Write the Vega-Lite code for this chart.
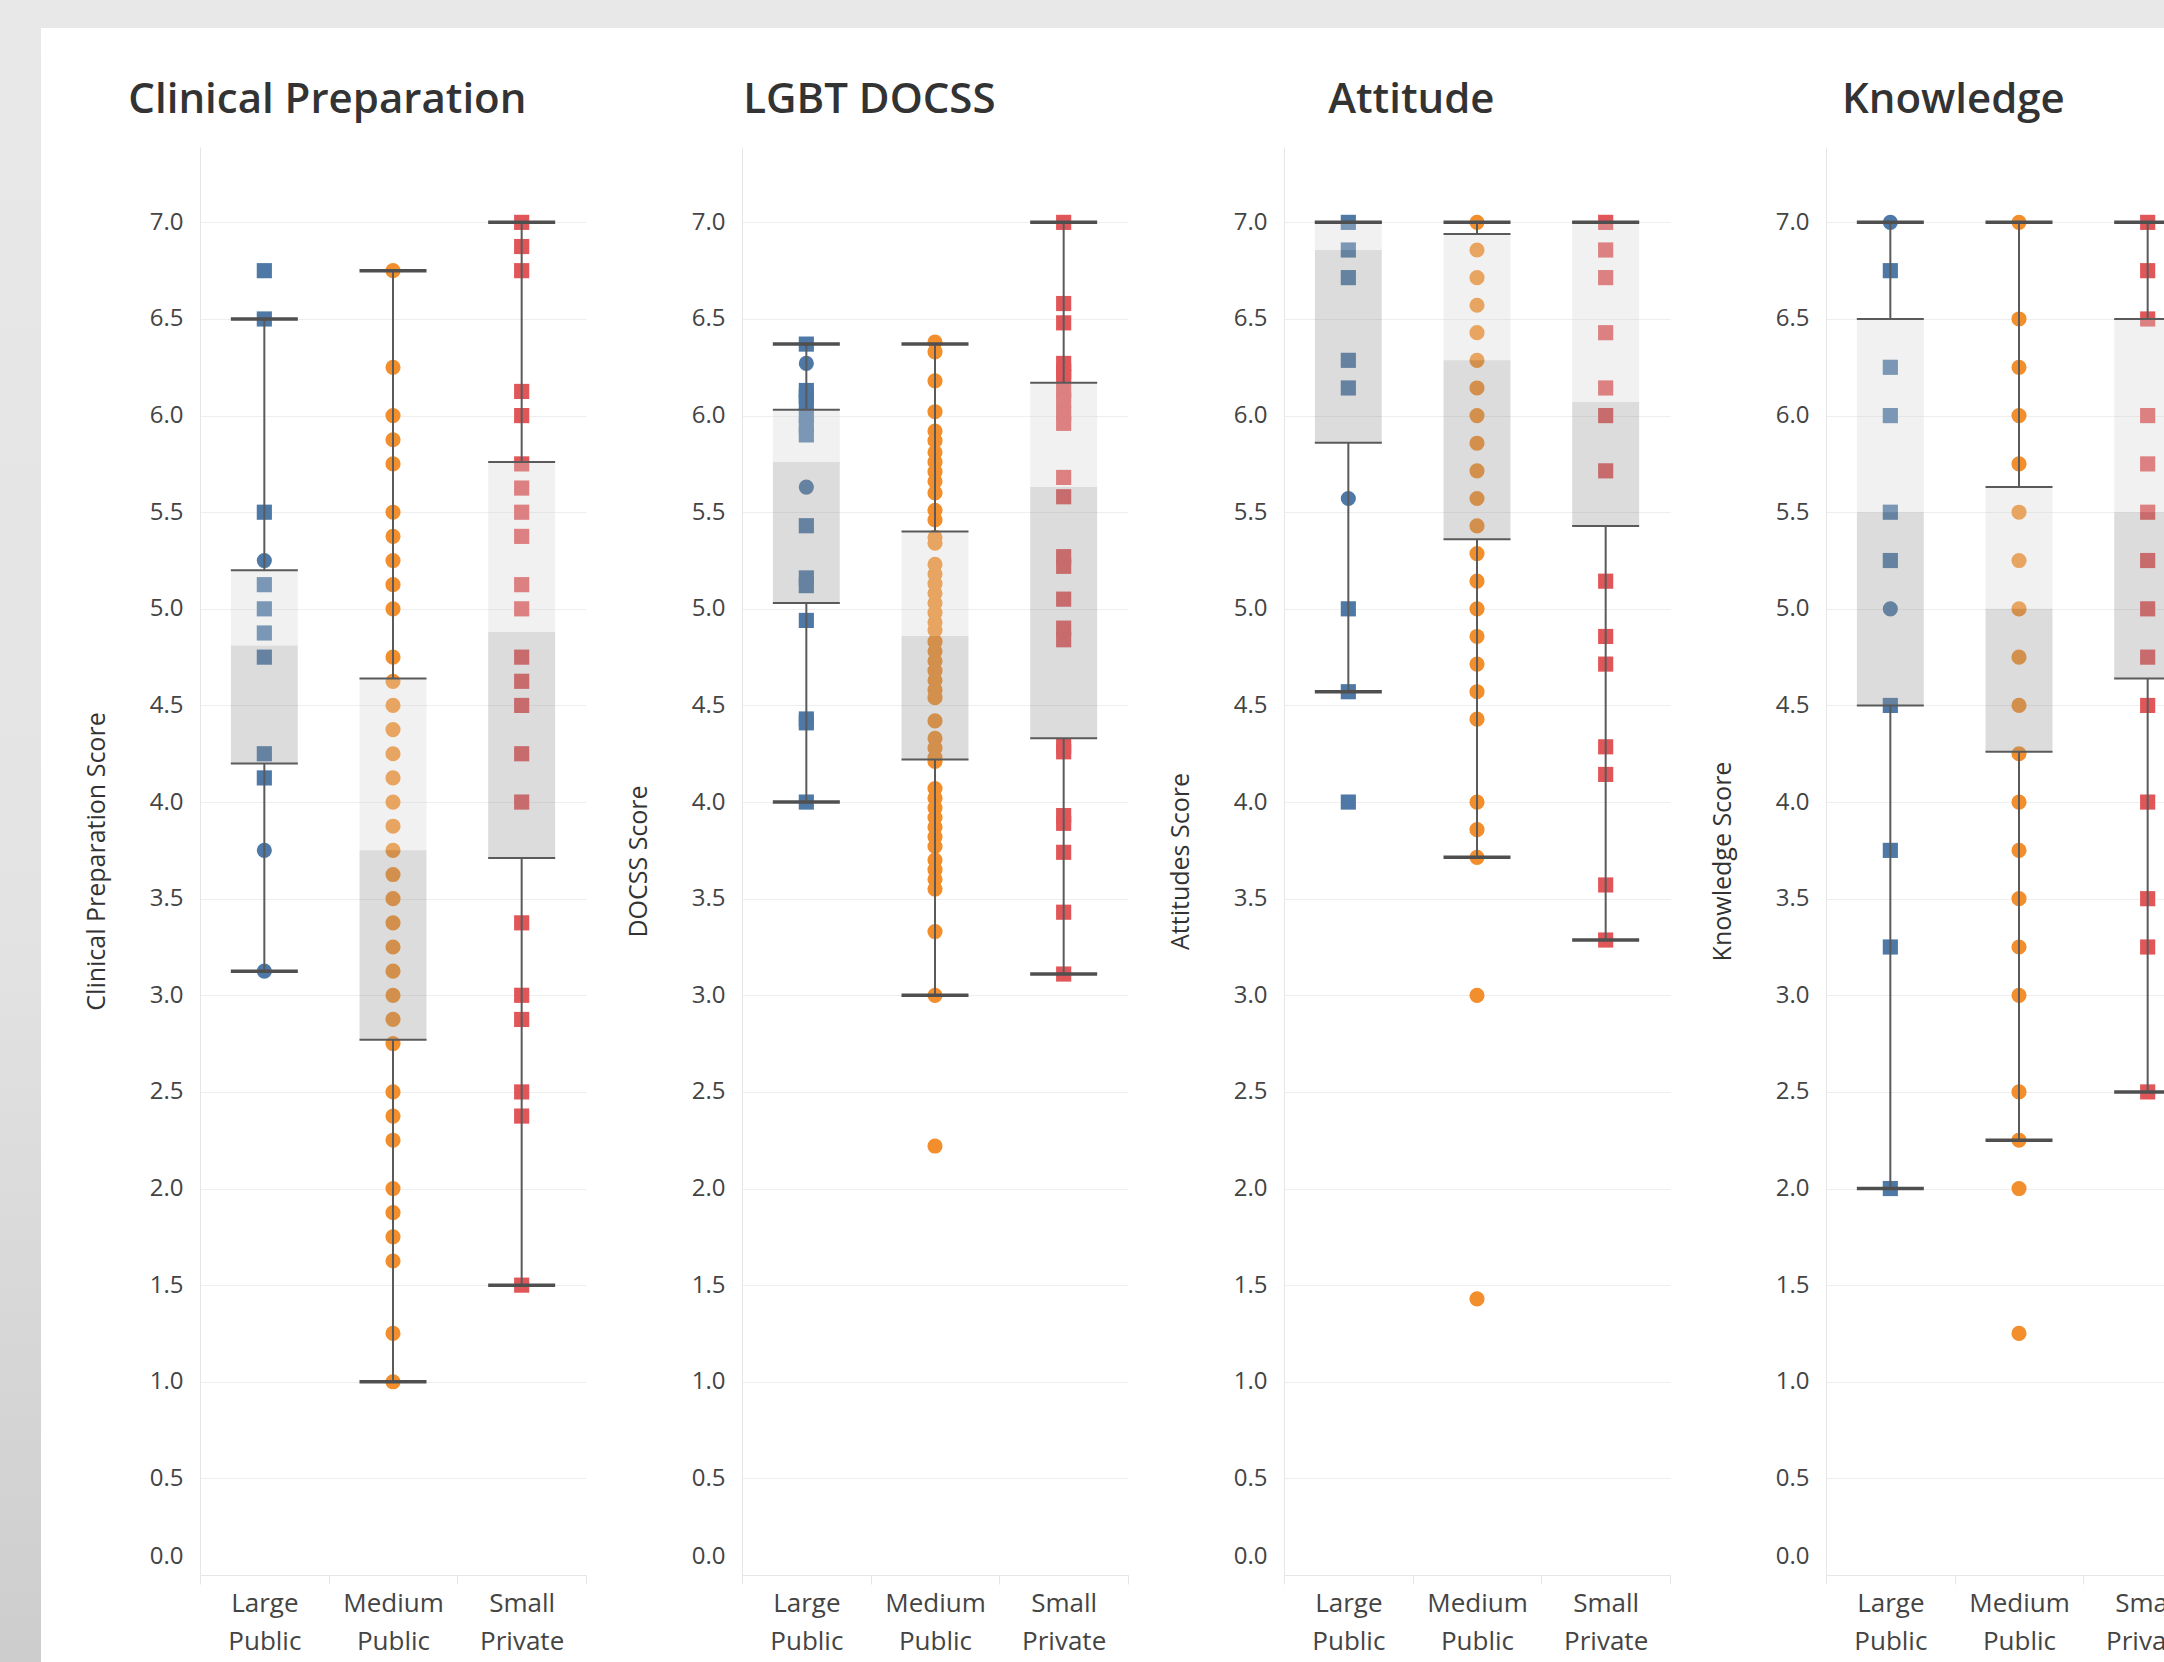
{
  "$schema": "https://vega.github.io/schema/vega-lite/v6.json",
  "padding": 0,
  "background": "white",
  "config": {
    "font": "Open Sans",
    "view": {"stroke": null},
    "concat": {"spacing": 0},
    "title": {"fontSize": 42, "fontWeight": 600, "color": "#333333", "anchor": "middle", "frame": "bounds", "offset": 25, "dx": -8, "baseline": "alphabetic"},
    "axisY": {"labelFontSize": 24, "labelColor": "#444444", "labelPadding": 17, "ticks": false, "tickSize": 0, "domainColor": "#e6e6e6", "gridColor": "#eeeeee", "titleFontSize": 25, "titleFontWeight": "normal", "titleColor": "#333333", "titlePadding": 40, "labelFlush": true, "labelFlushOffset": -7},
    "axisX": {"labelFontSize": 26, "labelColor": "#444444", "labelAngle": 0, "labelLineHeight": 38, "labelPadding": 6, "ticks": true, "tickBand": "extent", "tickSize": 9, "tickColor": "#e6e6e6", "domainColor": "#e6e6e6", "grid": false, "labelBaseline": "top"}
  },
  "datasets": {
    "boxes": [
      {"measure": "Clinical Preparation", "school": "Large Public", "lower_whisker": 3.125, "q1": 4.2, "median": 4.81, "q3": 5.2, "upper_whisker": 6.5},
      {"measure": "Clinical Preparation", "school": "Medium Public", "lower_whisker": 1.0, "q1": 2.77, "median": 3.75, "q3": 4.64, "upper_whisker": 6.75},
      {"measure": "Clinical Preparation", "school": "Small Private", "lower_whisker": 1.5, "q1": 3.71, "median": 4.88, "q3": 5.76, "upper_whisker": 7.0},
      {"measure": "LGBT DOCSS", "school": "Large Public", "lower_whisker": 4.0, "q1": 5.03, "median": 5.76, "q3": 6.03, "upper_whisker": 6.37},
      {"measure": "LGBT DOCSS", "school": "Medium Public", "lower_whisker": 3.0, "q1": 4.22, "median": 4.86, "q3": 5.4, "upper_whisker": 6.37},
      {"measure": "LGBT DOCSS", "school": "Small Private", "lower_whisker": 3.11, "q1": 4.33, "median": 5.63, "q3": 6.17, "upper_whisker": 7.0},
      {"measure": "Attitude", "school": "Large Public", "lower_whisker": 4.571, "q1": 5.86, "median": 6.857, "q3": 7.0, "upper_whisker": 7.0},
      {"measure": "Attitude", "school": "Medium Public", "lower_whisker": 3.714, "q1": 5.36, "median": 6.286, "q3": 6.94, "upper_whisker": 7.0},
      {"measure": "Attitude", "school": "Small Private", "lower_whisker": 3.286, "q1": 5.429, "median": 6.07, "q3": 7.0, "upper_whisker": 7.0},
      {"measure": "Knowledge", "school": "Large Public", "lower_whisker": 2.0, "q1": 4.5, "median": 5.5, "q3": 6.5, "upper_whisker": 7.0},
      {"measure": "Knowledge", "school": "Medium Public", "lower_whisker": 2.25, "q1": 4.26, "median": 5.0, "q3": 5.63, "upper_whisker": 7.0},
      {"measure": "Knowledge", "school": "Small Private", "lower_whisker": 2.5, "q1": 4.64, "median": 5.5, "q3": 6.5, "upper_whisker": 7.0}
    ],
    "points": [
      {"measure": "Clinical Preparation", "school": "Large Public", "group": "A", "score": 6.75},
      {"measure": "Clinical Preparation", "school": "Large Public", "group": "A", "score": 6.5},
      {"measure": "Clinical Preparation", "school": "Large Public", "group": "A", "score": 5.5},
      {"measure": "Clinical Preparation", "school": "Large Public", "group": "A", "score": 5.125},
      {"measure": "Clinical Preparation", "school": "Large Public", "group": "A", "score": 5.0},
      {"measure": "Clinical Preparation", "school": "Large Public", "group": "A", "score": 4.875},
      {"measure": "Clinical Preparation", "school": "Large Public", "group": "A", "score": 4.75},
      {"measure": "Clinical Preparation", "school": "Large Public", "group": "A", "score": 4.25},
      {"measure": "Clinical Preparation", "school": "Large Public", "group": "A", "score": 4.125},
      {"measure": "Clinical Preparation", "school": "Large Public", "group": "B", "score": 5.25},
      {"measure": "Clinical Preparation", "school": "Large Public", "group": "B", "score": 3.75},
      {"measure": "Clinical Preparation", "school": "Large Public", "group": "B", "score": 3.125},
      {"measure": "Clinical Preparation", "school": "Medium Public", "group": "B", "score": 6.75},
      {"measure": "Clinical Preparation", "school": "Medium Public", "group": "B", "score": 6.25},
      {"measure": "Clinical Preparation", "school": "Medium Public", "group": "B", "score": 6.0},
      {"measure": "Clinical Preparation", "school": "Medium Public", "group": "B", "score": 5.875},
      {"measure": "Clinical Preparation", "school": "Medium Public", "group": "B", "score": 5.75},
      {"measure": "Clinical Preparation", "school": "Medium Public", "group": "B", "score": 5.5},
      {"measure": "Clinical Preparation", "school": "Medium Public", "group": "B", "score": 5.375},
      {"measure": "Clinical Preparation", "school": "Medium Public", "group": "B", "score": 5.25},
      {"measure": "Clinical Preparation", "school": "Medium Public", "group": "B", "score": 5.125},
      {"measure": "Clinical Preparation", "school": "Medium Public", "group": "B", "score": 5.0},
      {"measure": "Clinical Preparation", "school": "Medium Public", "group": "B", "score": 4.75},
      {"measure": "Clinical Preparation", "school": "Medium Public", "group": "B", "score": 4.625},
      {"measure": "Clinical Preparation", "school": "Medium Public", "group": "B", "score": 4.5},
      {"measure": "Clinical Preparation", "school": "Medium Public", "group": "B", "score": 4.375},
      {"measure": "Clinical Preparation", "school": "Medium Public", "group": "B", "score": 4.25},
      {"measure": "Clinical Preparation", "school": "Medium Public", "group": "B", "score": 4.125},
      {"measure": "Clinical Preparation", "school": "Medium Public", "group": "B", "score": 4.0},
      {"measure": "Clinical Preparation", "school": "Medium Public", "group": "B", "score": 3.875},
      {"measure": "Clinical Preparation", "school": "Medium Public", "group": "B", "score": 3.75},
      {"measure": "Clinical Preparation", "school": "Medium Public", "group": "B", "score": 3.625},
      {"measure": "Clinical Preparation", "school": "Medium Public", "group": "B", "score": 3.5},
      {"measure": "Clinical Preparation", "school": "Medium Public", "group": "B", "score": 3.375},
      {"measure": "Clinical Preparation", "school": "Medium Public", "group": "B", "score": 3.25},
      {"measure": "Clinical Preparation", "school": "Medium Public", "group": "B", "score": 3.125},
      {"measure": "Clinical Preparation", "school": "Medium Public", "group": "B", "score": 3.0},
      {"measure": "Clinical Preparation", "school": "Medium Public", "group": "B", "score": 2.875},
      {"measure": "Clinical Preparation", "school": "Medium Public", "group": "B", "score": 2.75},
      {"measure": "Clinical Preparation", "school": "Medium Public", "group": "B", "score": 2.5},
      {"measure": "Clinical Preparation", "school": "Medium Public", "group": "B", "score": 2.375},
      {"measure": "Clinical Preparation", "school": "Medium Public", "group": "B", "score": 2.25},
      {"measure": "Clinical Preparation", "school": "Medium Public", "group": "B", "score": 2.0},
      {"measure": "Clinical Preparation", "school": "Medium Public", "group": "B", "score": 1.875},
      {"measure": "Clinical Preparation", "school": "Medium Public", "group": "B", "score": 1.75},
      {"measure": "Clinical Preparation", "school": "Medium Public", "group": "B", "score": 1.625},
      {"measure": "Clinical Preparation", "school": "Medium Public", "group": "B", "score": 1.25},
      {"measure": "Clinical Preparation", "school": "Medium Public", "group": "B", "score": 1.0},
      {"measure": "Clinical Preparation", "school": "Small Private", "group": "A", "score": 7.0},
      {"measure": "Clinical Preparation", "school": "Small Private", "group": "A", "score": 6.875},
      {"measure": "Clinical Preparation", "school": "Small Private", "group": "A", "score": 6.75},
      {"measure": "Clinical Preparation", "school": "Small Private", "group": "A", "score": 6.125},
      {"measure": "Clinical Preparation", "school": "Small Private", "group": "A", "score": 6.0},
      {"measure": "Clinical Preparation", "school": "Small Private", "group": "A", "score": 5.75},
      {"measure": "Clinical Preparation", "school": "Small Private", "group": "A", "score": 5.625},
      {"measure": "Clinical Preparation", "school": "Small Private", "group": "A", "score": 5.5},
      {"measure": "Clinical Preparation", "school": "Small Private", "group": "A", "score": 5.375},
      {"measure": "Clinical Preparation", "school": "Small Private", "group": "A", "score": 5.125},
      {"measure": "Clinical Preparation", "school": "Small Private", "group": "A", "score": 5.0},
      {"measure": "Clinical Preparation", "school": "Small Private", "group": "A", "score": 4.75},
      {"measure": "Clinical Preparation", "school": "Small Private", "group": "A", "score": 4.625},
      {"measure": "Clinical Preparation", "school": "Small Private", "group": "A", "score": 4.5},
      {"measure": "Clinical Preparation", "school": "Small Private", "group": "A", "score": 4.25},
      {"measure": "Clinical Preparation", "school": "Small Private", "group": "A", "score": 4.0},
      {"measure": "Clinical Preparation", "school": "Small Private", "group": "A", "score": 3.375},
      {"measure": "Clinical Preparation", "school": "Small Private", "group": "A", "score": 3.0},
      {"measure": "Clinical Preparation", "school": "Small Private", "group": "A", "score": 2.875},
      {"measure": "Clinical Preparation", "school": "Small Private", "group": "A", "score": 2.5},
      {"measure": "Clinical Preparation", "school": "Small Private", "group": "A", "score": 2.375},
      {"measure": "Clinical Preparation", "school": "Small Private", "group": "A", "score": 1.5},
      {"measure": "LGBT DOCSS", "school": "Large Public", "group": "A", "score": 6.37},
      {"measure": "LGBT DOCSS", "school": "Large Public", "group": "A", "score": 6.13},
      {"measure": "LGBT DOCSS", "school": "Large Public", "group": "A", "score": 6.1},
      {"measure": "LGBT DOCSS", "school": "Large Public", "group": "A", "score": 6.07},
      {"measure": "LGBT DOCSS", "school": "Large Public", "group": "A", "score": 6.0},
      {"measure": "LGBT DOCSS", "school": "Large Public", "group": "A", "score": 5.95},
      {"measure": "LGBT DOCSS", "school": "Large Public", "group": "A", "score": 5.9},
      {"measure": "LGBT DOCSS", "school": "Large Public", "group": "A", "score": 5.43},
      {"measure": "LGBT DOCSS", "school": "Large Public", "group": "A", "score": 5.16},
      {"measure": "LGBT DOCSS", "school": "Large Public", "group": "A", "score": 5.12},
      {"measure": "LGBT DOCSS", "school": "Large Public", "group": "A", "score": 4.94},
      {"measure": "LGBT DOCSS", "school": "Large Public", "group": "A", "score": 4.43},
      {"measure": "LGBT DOCSS", "school": "Large Public", "group": "A", "score": 4.41},
      {"measure": "LGBT DOCSS", "school": "Large Public", "group": "A", "score": 4.0},
      {"measure": "LGBT DOCSS", "school": "Large Public", "group": "B", "score": 6.27},
      {"measure": "LGBT DOCSS", "school": "Large Public", "group": "B", "score": 5.63},
      {"measure": "LGBT DOCSS", "school": "Medium Public", "group": "B", "score": 6.38},
      {"measure": "LGBT DOCSS", "school": "Medium Public", "group": "B", "score": 6.33},
      {"measure": "LGBT DOCSS", "school": "Medium Public", "group": "B", "score": 6.18},
      {"measure": "LGBT DOCSS", "school": "Medium Public", "group": "B", "score": 6.02},
      {"measure": "LGBT DOCSS", "school": "Medium Public", "group": "B", "score": 5.92},
      {"measure": "LGBT DOCSS", "school": "Medium Public", "group": "B", "score": 5.87},
      {"measure": "LGBT DOCSS", "school": "Medium Public", "group": "B", "score": 5.81},
      {"measure": "LGBT DOCSS", "school": "Medium Public", "group": "B", "score": 5.76},
      {"measure": "LGBT DOCSS", "school": "Medium Public", "group": "B", "score": 5.71},
      {"measure": "LGBT DOCSS", "school": "Medium Public", "group": "B", "score": 5.66},
      {"measure": "LGBT DOCSS", "school": "Medium Public", "group": "B", "score": 5.6},
      {"measure": "LGBT DOCSS", "school": "Medium Public", "group": "B", "score": 5.51},
      {"measure": "LGBT DOCSS", "school": "Medium Public", "group": "B", "score": 5.46},
      {"measure": "LGBT DOCSS", "school": "Medium Public", "group": "B", "score": 5.37},
      {"measure": "LGBT DOCSS", "school": "Medium Public", "group": "B", "score": 5.34},
      {"measure": "LGBT DOCSS", "school": "Medium Public", "group": "B", "score": 5.23},
      {"measure": "LGBT DOCSS", "school": "Medium Public", "group": "B", "score": 5.18},
      {"measure": "LGBT DOCSS", "school": "Medium Public", "group": "B", "score": 5.13},
      {"measure": "LGBT DOCSS", "school": "Medium Public", "group": "B", "score": 5.08},
      {"measure": "LGBT DOCSS", "school": "Medium Public", "group": "B", "score": 5.03},
      {"measure": "LGBT DOCSS", "school": "Medium Public", "group": "B", "score": 4.98},
      {"measure": "LGBT DOCSS", "school": "Medium Public", "group": "B", "score": 4.93},
      {"measure": "LGBT DOCSS", "school": "Medium Public", "group": "B", "score": 4.89},
      {"measure": "LGBT DOCSS", "school": "Medium Public", "group": "B", "score": 4.83},
      {"measure": "LGBT DOCSS", "school": "Medium Public", "group": "B", "score": 4.78},
      {"measure": "LGBT DOCSS", "school": "Medium Public", "group": "B", "score": 4.73},
      {"measure": "LGBT DOCSS", "school": "Medium Public", "group": "B", "score": 4.68},
      {"measure": "LGBT DOCSS", "school": "Medium Public", "group": "B", "score": 4.63},
      {"measure": "LGBT DOCSS", "school": "Medium Public", "group": "B", "score": 4.58},
      {"measure": "LGBT DOCSS", "school": "Medium Public", "group": "B", "score": 4.54},
      {"measure": "LGBT DOCSS", "school": "Medium Public", "group": "B", "score": 4.42},
      {"measure": "LGBT DOCSS", "school": "Medium Public", "group": "B", "score": 4.33},
      {"measure": "LGBT DOCSS", "school": "Medium Public", "group": "B", "score": 4.28},
      {"measure": "LGBT DOCSS", "school": "Medium Public", "group": "B", "score": 4.23},
      {"measure": "LGBT DOCSS", "school": "Medium Public", "group": "B", "score": 4.21},
      {"measure": "LGBT DOCSS", "school": "Medium Public", "group": "B", "score": 4.07},
      {"measure": "LGBT DOCSS", "school": "Medium Public", "group": "B", "score": 4.02},
      {"measure": "LGBT DOCSS", "school": "Medium Public", "group": "B", "score": 3.97},
      {"measure": "LGBT DOCSS", "school": "Medium Public", "group": "B", "score": 3.92},
      {"measure": "LGBT DOCSS", "school": "Medium Public", "group": "B", "score": 3.87},
      {"measure": "LGBT DOCSS", "school": "Medium Public", "group": "B", "score": 3.82},
      {"measure": "LGBT DOCSS", "school": "Medium Public", "group": "B", "score": 3.77},
      {"measure": "LGBT DOCSS", "school": "Medium Public", "group": "B", "score": 3.7},
      {"measure": "LGBT DOCSS", "school": "Medium Public", "group": "B", "score": 3.65},
      {"measure": "LGBT DOCSS", "school": "Medium Public", "group": "B", "score": 3.6},
      {"measure": "LGBT DOCSS", "school": "Medium Public", "group": "B", "score": 3.55},
      {"measure": "LGBT DOCSS", "school": "Medium Public", "group": "B", "score": 3.33},
      {"measure": "LGBT DOCSS", "school": "Medium Public", "group": "B", "score": 3.0},
      {"measure": "LGBT DOCSS", "school": "Medium Public", "group": "B", "score": 2.22},
      {"measure": "LGBT DOCSS", "school": "Small Private", "group": "A", "score": 7.0},
      {"measure": "LGBT DOCSS", "school": "Small Private", "group": "A", "score": 6.58},
      {"measure": "LGBT DOCSS", "school": "Small Private", "group": "A", "score": 6.48},
      {"measure": "LGBT DOCSS", "school": "Small Private", "group": "A", "score": 6.27},
      {"measure": "LGBT DOCSS", "school": "Small Private", "group": "A", "score": 6.23},
      {"measure": "LGBT DOCSS", "school": "Small Private", "group": "A", "score": 6.2},
      {"measure": "LGBT DOCSS", "school": "Small Private", "group": "A", "score": 6.13},
      {"measure": "LGBT DOCSS", "school": "Small Private", "group": "A", "score": 6.08},
      {"measure": "LGBT DOCSS", "school": "Small Private", "group": "A", "score": 6.01},
      {"measure": "LGBT DOCSS", "school": "Small Private", "group": "A", "score": 5.96},
      {"measure": "LGBT DOCSS", "school": "Small Private", "group": "A", "score": 5.68},
      {"measure": "LGBT DOCSS", "school": "Small Private", "group": "A", "score": 5.58},
      {"measure": "LGBT DOCSS", "school": "Small Private", "group": "A", "score": 5.27},
      {"measure": "LGBT DOCSS", "school": "Small Private", "group": "A", "score": 5.22},
      {"measure": "LGBT DOCSS", "school": "Small Private", "group": "A", "score": 5.05},
      {"measure": "LGBT DOCSS", "school": "Small Private", "group": "A", "score": 4.9},
      {"measure": "LGBT DOCSS", "school": "Small Private", "group": "A", "score": 4.84},
      {"measure": "LGBT DOCSS", "school": "Small Private", "group": "A", "score": 4.29},
      {"measure": "LGBT DOCSS", "school": "Small Private", "group": "A", "score": 4.26},
      {"measure": "LGBT DOCSS", "school": "Small Private", "group": "A", "score": 3.93},
      {"measure": "LGBT DOCSS", "school": "Small Private", "group": "A", "score": 3.89},
      {"measure": "LGBT DOCSS", "school": "Small Private", "group": "A", "score": 3.74},
      {"measure": "LGBT DOCSS", "school": "Small Private", "group": "A", "score": 3.43},
      {"measure": "LGBT DOCSS", "school": "Small Private", "group": "A", "score": 3.11},
      {"measure": "Attitude", "school": "Large Public", "group": "A", "score": 7.0},
      {"measure": "Attitude", "school": "Large Public", "group": "A", "score": 6.857},
      {"measure": "Attitude", "school": "Large Public", "group": "A", "score": 6.714},
      {"measure": "Attitude", "school": "Large Public", "group": "A", "score": 6.286},
      {"measure": "Attitude", "school": "Large Public", "group": "A", "score": 6.143},
      {"measure": "Attitude", "school": "Large Public", "group": "A", "score": 5.0},
      {"measure": "Attitude", "school": "Large Public", "group": "A", "score": 4.571},
      {"measure": "Attitude", "school": "Large Public", "group": "A", "score": 4.0},
      {"measure": "Attitude", "school": "Large Public", "group": "B", "score": 5.571},
      {"measure": "Attitude", "school": "Medium Public", "group": "B", "score": 7.0},
      {"measure": "Attitude", "school": "Medium Public", "group": "B", "score": 6.857},
      {"measure": "Attitude", "school": "Medium Public", "group": "B", "score": 6.714},
      {"measure": "Attitude", "school": "Medium Public", "group": "B", "score": 6.571},
      {"measure": "Attitude", "school": "Medium Public", "group": "B", "score": 6.429},
      {"measure": "Attitude", "school": "Medium Public", "group": "B", "score": 6.286},
      {"measure": "Attitude", "school": "Medium Public", "group": "B", "score": 6.143},
      {"measure": "Attitude", "school": "Medium Public", "group": "B", "score": 6.0},
      {"measure": "Attitude", "school": "Medium Public", "group": "B", "score": 5.857},
      {"measure": "Attitude", "school": "Medium Public", "group": "B", "score": 5.714},
      {"measure": "Attitude", "school": "Medium Public", "group": "B", "score": 5.571},
      {"measure": "Attitude", "school": "Medium Public", "group": "B", "score": 5.429},
      {"measure": "Attitude", "school": "Medium Public", "group": "B", "score": 5.286},
      {"measure": "Attitude", "school": "Medium Public", "group": "B", "score": 5.143},
      {"measure": "Attitude", "school": "Medium Public", "group": "B", "score": 5.0},
      {"measure": "Attitude", "school": "Medium Public", "group": "B", "score": 4.857},
      {"measure": "Attitude", "school": "Medium Public", "group": "B", "score": 4.714},
      {"measure": "Attitude", "school": "Medium Public", "group": "B", "score": 4.571},
      {"measure": "Attitude", "school": "Medium Public", "group": "B", "score": 4.429},
      {"measure": "Attitude", "school": "Medium Public", "group": "B", "score": 4.0},
      {"measure": "Attitude", "school": "Medium Public", "group": "B", "score": 3.857},
      {"measure": "Attitude", "school": "Medium Public", "group": "B", "score": 3.714},
      {"measure": "Attitude", "school": "Medium Public", "group": "B", "score": 3.0},
      {"measure": "Attitude", "school": "Medium Public", "group": "B", "score": 1.429},
      {"measure": "Attitude", "school": "Small Private", "group": "A", "score": 7.0},
      {"measure": "Attitude", "school": "Small Private", "group": "A", "score": 6.857},
      {"measure": "Attitude", "school": "Small Private", "group": "A", "score": 6.714},
      {"measure": "Attitude", "school": "Small Private", "group": "A", "score": 6.429},
      {"measure": "Attitude", "school": "Small Private", "group": "A", "score": 6.143},
      {"measure": "Attitude", "school": "Small Private", "group": "A", "score": 6.0},
      {"measure": "Attitude", "school": "Small Private", "group": "A", "score": 5.714},
      {"measure": "Attitude", "school": "Small Private", "group": "A", "score": 5.143},
      {"measure": "Attitude", "school": "Small Private", "group": "A", "score": 4.857},
      {"measure": "Attitude", "school": "Small Private", "group": "A", "score": 4.714},
      {"measure": "Attitude", "school": "Small Private", "group": "A", "score": 4.286},
      {"measure": "Attitude", "school": "Small Private", "group": "A", "score": 4.143},
      {"measure": "Attitude", "school": "Small Private", "group": "A", "score": 3.571},
      {"measure": "Attitude", "school": "Small Private", "group": "A", "score": 3.286},
      {"measure": "Knowledge", "school": "Large Public", "group": "A", "score": 6.75},
      {"measure": "Knowledge", "school": "Large Public", "group": "A", "score": 6.25},
      {"measure": "Knowledge", "school": "Large Public", "group": "A", "score": 6.0},
      {"measure": "Knowledge", "school": "Large Public", "group": "A", "score": 5.5},
      {"measure": "Knowledge", "school": "Large Public", "group": "A", "score": 5.25},
      {"measure": "Knowledge", "school": "Large Public", "group": "A", "score": 4.5},
      {"measure": "Knowledge", "school": "Large Public", "group": "A", "score": 3.75},
      {"measure": "Knowledge", "school": "Large Public", "group": "A", "score": 3.25},
      {"measure": "Knowledge", "school": "Large Public", "group": "A", "score": 2.0},
      {"measure": "Knowledge", "school": "Large Public", "group": "B", "score": 7.0},
      {"measure": "Knowledge", "school": "Large Public", "group": "B", "score": 5.0},
      {"measure": "Knowledge", "school": "Medium Public", "group": "B", "score": 7.0},
      {"measure": "Knowledge", "school": "Medium Public", "group": "B", "score": 6.5},
      {"measure": "Knowledge", "school": "Medium Public", "group": "B", "score": 6.25},
      {"measure": "Knowledge", "school": "Medium Public", "group": "B", "score": 6.0},
      {"measure": "Knowledge", "school": "Medium Public", "group": "B", "score": 5.75},
      {"measure": "Knowledge", "school": "Medium Public", "group": "B", "score": 5.5},
      {"measure": "Knowledge", "school": "Medium Public", "group": "B", "score": 5.25},
      {"measure": "Knowledge", "school": "Medium Public", "group": "B", "score": 5.0},
      {"measure": "Knowledge", "school": "Medium Public", "group": "B", "score": 4.75},
      {"measure": "Knowledge", "school": "Medium Public", "group": "B", "score": 4.5},
      {"measure": "Knowledge", "school": "Medium Public", "group": "B", "score": 4.25},
      {"measure": "Knowledge", "school": "Medium Public", "group": "B", "score": 4.0},
      {"measure": "Knowledge", "school": "Medium Public", "group": "B", "score": 3.75},
      {"measure": "Knowledge", "school": "Medium Public", "group": "B", "score": 3.5},
      {"measure": "Knowledge", "school": "Medium Public", "group": "B", "score": 3.25},
      {"measure": "Knowledge", "school": "Medium Public", "group": "B", "score": 3.0},
      {"measure": "Knowledge", "school": "Medium Public", "group": "B", "score": 2.5},
      {"measure": "Knowledge", "school": "Medium Public", "group": "B", "score": 2.25},
      {"measure": "Knowledge", "school": "Medium Public", "group": "B", "score": 2.0},
      {"measure": "Knowledge", "school": "Medium Public", "group": "B", "score": 1.25},
      {"measure": "Knowledge", "school": "Small Private", "group": "A", "score": 7.0},
      {"measure": "Knowledge", "school": "Small Private", "group": "A", "score": 6.75},
      {"measure": "Knowledge", "school": "Small Private", "group": "A", "score": 6.5},
      {"measure": "Knowledge", "school": "Small Private", "group": "A", "score": 6.0},
      {"measure": "Knowledge", "school": "Small Private", "group": "A", "score": 5.75},
      {"measure": "Knowledge", "school": "Small Private", "group": "A", "score": 5.5},
      {"measure": "Knowledge", "school": "Small Private", "group": "A", "score": 5.25},
      {"measure": "Knowledge", "school": "Small Private", "group": "A", "score": 5.0},
      {"measure": "Knowledge", "school": "Small Private", "group": "A", "score": 4.75},
      {"measure": "Knowledge", "school": "Small Private", "group": "A", "score": 4.5},
      {"measure": "Knowledge", "school": "Small Private", "group": "A", "score": 4.0},
      {"measure": "Knowledge", "school": "Small Private", "group": "A", "score": 3.5},
      {"measure": "Knowledge", "school": "Small Private", "group": "A", "score": 3.25},
      {"measure": "Knowledge", "school": "Small Private", "group": "A", "score": 2.5}
    ]
  },
  "vconcat": [
    {"width": 2164, "height": 28, "data": {"values": []}, "mark": "point", "view": {"fill": "#e8e8e8"}},
    {
      "hconcat": [
        {"width": 41, "height": 1634, "data": {"values": []}, "mark": "point",
         "view": {"fill": {"gradient": "linear", "x1": 0, "y1": 0, "x2": 0, "y2": 1, "stops": [{"offset": 0, "color": "#e8e8e8"}, {"offset": 0.55, "color": "#e3e3e3"}, {"offset": 1, "color": "#cdcdcd"}]}}},
        {"width": 43, "height": 10, "data": {"values": []}, "mark": "point"},
        {
          "vconcat": [
            {"width": 10, "height": 51, "data": {"values": []}, "mark": "point"},
            {
              "spacing": 39,
              "hconcat": [
                {
                  "width": 386, "height": 1428,
                  "title": {"text": "Clinical Preparation"},
                  "encoding": {"x": {"field": "school", "type": "nominal", "title": null, "scale": {"domain": ["Large Public", "Medium Public", "Small Private"], "paddingInner": 0, "paddingOuter": 0}, "axis": {"labelExpr": "split(datum.label, ' ')"}}},
                  "layer": [
                    {"data": {"name": "points"}, "transform": [{"filter": "datum.measure === 'Clinical Preparation'"}],
                     "mark": {"type": "point", "filled": true, "opacity": 1, "size": 230},
                     "encoding": {
                       "y": {"field": "score", "type": "quantitative", "title": "Clinical Preparation Score", "scale": {"domain": [0, 7.39], "nice": false}, "axis": {"values": [0, 0.5, 1, 1.5, 2, 2.5, 3, 3.5, 4, 4.5, 5, 5.5, 6, 6.5, 7], "format": ".1f"}},
                       "color": {"field": "school", "type": "nominal", "scale": {"domain": ["Large Public", "Medium Public", "Small Private"], "range": ["#4e79a7", "#f28e2b", "#e15759"]}, "legend": null},
                       "shape": {"field": "group", "type": "nominal", "scale": {"domain": ["A", "B"], "range": ["square", "circle"]}, "legend": null}}},
                    {"data": {"name": "boxes"}, "transform": [{"filter": "datum.measure === 'Clinical Preparation'"}],
                     "mark": {"type": "bar", "width": {"band": 0.52}, "color": "#949494", "opacity": 0.33},
                     "encoding": {"y": {"field": "q1", "type": "quantitative", "title": "Clinical Preparation Score"}, "y2": {"field": "median"}}},
                    {"data": {"name": "boxes"}, "transform": [{"filter": "datum.measure === 'Clinical Preparation'"}],
                     "mark": {"type": "bar", "width": {"band": 0.52}, "color": "#d4d4d4", "opacity": 0.33},
                     "encoding": {"y": {"field": "median", "type": "quantitative", "title": "Clinical Preparation Score"}, "y2": {"field": "q3"}}},
                    {"data": {"name": "boxes"}, "transform": [{"filter": "datum.measure === 'Clinical Preparation'"}],
                     "mark": {"type": "rule", "color": "#5a5a5a", "strokeWidth": 2},
                     "encoding": {"y": {"field": "q3", "type": "quantitative", "title": "Clinical Preparation Score"}, "y2": {"field": "upper_whisker"}}},
                    {"data": {"name": "boxes"}, "transform": [{"filter": "datum.measure === 'Clinical Preparation'"}],
                     "mark": {"type": "rule", "color": "#5a5a5a", "strokeWidth": 2},
                     "encoding": {"y": {"field": "lower_whisker", "type": "quantitative", "title": "Clinical Preparation Score"}, "y2": {"field": "q1"}}},
                    {"data": {"name": "boxes"}, "transform": [{"filter": "datum.measure === 'Clinical Preparation'"}],
                     "mark": {"type": "tick", "color": "#5a5a5a", "size": 67, "thickness": 2, "opacity": 1},
                     "encoding": {"y": {"field": "q1", "type": "quantitative", "title": "Clinical Preparation Score"}}},
                    {"data": {"name": "boxes"}, "transform": [{"filter": "datum.measure === 'Clinical Preparation'"}],
                     "mark": {"type": "tick", "color": "#5a5a5a", "size": 67, "thickness": 2, "opacity": 1},
                     "encoding": {"y": {"field": "q3", "type": "quantitative", "title": "Clinical Preparation Score"}}},
                    {"data": {"name": "boxes"}, "transform": [{"filter": "datum.measure === 'Clinical Preparation'"}],
                     "mark": {"type": "tick", "color": "#4f4f4f", "size": 67, "thickness": 3.5, "opacity": 1},
                     "encoding": {"y": {"field": "lower_whisker", "type": "quantitative", "title": "Clinical Preparation Score"}}},
                    {"data": {"name": "boxes"}, "transform": [{"filter": "datum.measure === 'Clinical Preparation'"}],
                     "mark": {"type": "tick", "color": "#4f4f4f", "size": 67, "thickness": 3.5, "opacity": 1},
                     "encoding": {"y": {"field": "upper_whisker", "type": "quantitative", "title": "Clinical Preparation Score"}}}
                  ]
                },
                {
                  "width": 386, "height": 1428,
                  "title": {"text": "LGBT DOCSS"},
                  "encoding": {"x": {"field": "school", "type": "nominal", "title": null, "scale": {"domain": ["Large Public", "Medium Public", "Small Private"], "paddingInner": 0, "paddingOuter": 0}, "axis": {"labelExpr": "split(datum.label, ' ')"}}},
                  "layer": [
                    {"data": {"name": "points"}, "transform": [{"filter": "datum.measure === 'LGBT DOCSS'"}],
                     "mark": {"type": "point", "filled": true, "opacity": 1, "size": 230},
                     "encoding": {
                       "y": {"field": "score", "type": "quantitative", "title": "DOCSS Score", "scale": {"domain": [0, 7.39], "nice": false}, "axis": {"values": [0, 0.5, 1, 1.5, 2, 2.5, 3, 3.5, 4, 4.5, 5, 5.5, 6, 6.5, 7], "format": ".1f"}},
                       "color": {"field": "school", "type": "nominal", "scale": {"domain": ["Large Public", "Medium Public", "Small Private"], "range": ["#4e79a7", "#f28e2b", "#e15759"]}, "legend": null},
                       "shape": {"field": "group", "type": "nominal", "scale": {"domain": ["A", "B"], "range": ["square", "circle"]}, "legend": null}}},
                    {"data": {"name": "boxes"}, "transform": [{"filter": "datum.measure === 'LGBT DOCSS'"}],
                     "mark": {"type": "bar", "width": {"band": 0.52}, "color": "#949494", "opacity": 0.33},
                     "encoding": {"y": {"field": "q1", "type": "quantitative", "title": "DOCSS Score"}, "y2": {"field": "median"}}},
                    {"data": {"name": "boxes"}, "transform": [{"filter": "datum.measure === 'LGBT DOCSS'"}],
                     "mark": {"type": "bar", "width": {"band": 0.52}, "color": "#d4d4d4", "opacity": 0.33},
                     "encoding": {"y": {"field": "median", "type": "quantitative", "title": "DOCSS Score"}, "y2": {"field": "q3"}}},
                    {"data": {"name": "boxes"}, "transform": [{"filter": "datum.measure === 'LGBT DOCSS'"}],
                     "mark": {"type": "rule", "color": "#5a5a5a", "strokeWidth": 2},
                     "encoding": {"y": {"field": "q3", "type": "quantitative", "title": "DOCSS Score"}, "y2": {"field": "upper_whisker"}}},
                    {"data": {"name": "boxes"}, "transform": [{"filter": "datum.measure === 'LGBT DOCSS'"}],
                     "mark": {"type": "rule", "color": "#5a5a5a", "strokeWidth": 2},
                     "encoding": {"y": {"field": "lower_whisker", "type": "quantitative", "title": "DOCSS Score"}, "y2": {"field": "q1"}}},
                    {"data": {"name": "boxes"}, "transform": [{"filter": "datum.measure === 'LGBT DOCSS'"}],
                     "mark": {"type": "tick", "color": "#5a5a5a", "size": 67, "thickness": 2, "opacity": 1},
                     "encoding": {"y": {"field": "q1", "type": "quantitative", "title": "DOCSS Score"}}},
                    {"data": {"name": "boxes"}, "transform": [{"filter": "datum.measure === 'LGBT DOCSS'"}],
                     "mark": {"type": "tick", "color": "#5a5a5a", "size": 67, "thickness": 2, "opacity": 1},
                     "encoding": {"y": {"field": "q3", "type": "quantitative", "title": "DOCSS Score"}}},
                    {"data": {"name": "boxes"}, "transform": [{"filter": "datum.measure === 'LGBT DOCSS'"}],
                     "mark": {"type": "tick", "color": "#4f4f4f", "size": 67, "thickness": 3.5, "opacity": 1},
                     "encoding": {"y": {"field": "lower_whisker", "type": "quantitative", "title": "DOCSS Score"}}},
                    {"data": {"name": "boxes"}, "transform": [{"filter": "datum.measure === 'LGBT DOCSS'"}],
                     "mark": {"type": "tick", "color": "#4f4f4f", "size": 67, "thickness": 3.5, "opacity": 1},
                     "encoding": {"y": {"field": "upper_whisker", "type": "quantitative", "title": "DOCSS Score"}}}
                  ]
                },
                {
                  "width": 386, "height": 1428,
                  "title": {"text": "Attitude"},
                  "encoding": {"x": {"field": "school", "type": "nominal", "title": null, "scale": {"domain": ["Large Public", "Medium Public", "Small Private"], "paddingInner": 0, "paddingOuter": 0}, "axis": {"labelExpr": "split(datum.label, ' ')"}}},
                  "layer": [
                    {"data": {"name": "points"}, "transform": [{"filter": "datum.measure === 'Attitude'"}],
                     "mark": {"type": "point", "filled": true, "opacity": 1, "size": 230},
                     "encoding": {
                       "y": {"field": "score", "type": "quantitative", "title": "Attitudes Score", "scale": {"domain": [0, 7.39], "nice": false}, "axis": {"values": [0, 0.5, 1, 1.5, 2, 2.5, 3, 3.5, 4, 4.5, 5, 5.5, 6, 6.5, 7], "format": ".1f"}},
                       "color": {"field": "school", "type": "nominal", "scale": {"domain": ["Large Public", "Medium Public", "Small Private"], "range": ["#4e79a7", "#f28e2b", "#e15759"]}, "legend": null},
                       "shape": {"field": "group", "type": "nominal", "scale": {"domain": ["A", "B"], "range": ["square", "circle"]}, "legend": null}}},
                    {"data": {"name": "boxes"}, "transform": [{"filter": "datum.measure === 'Attitude'"}],
                     "mark": {"type": "bar", "width": {"band": 0.52}, "color": "#949494", "opacity": 0.33},
                     "encoding": {"y": {"field": "q1", "type": "quantitative", "title": "Attitudes Score"}, "y2": {"field": "median"}}},
                    {"data": {"name": "boxes"}, "transform": [{"filter": "datum.measure === 'Attitude'"}],
                     "mark": {"type": "bar", "width": {"band": 0.52}, "color": "#d4d4d4", "opacity": 0.33},
                     "encoding": {"y": {"field": "median", "type": "quantitative", "title": "Attitudes Score"}, "y2": {"field": "q3"}}},
                    {"data": {"name": "boxes"}, "transform": [{"filter": "datum.measure === 'Attitude'"}],
                     "mark": {"type": "rule", "color": "#5a5a5a", "strokeWidth": 2},
                     "encoding": {"y": {"field": "q3", "type": "quantitative", "title": "Attitudes Score"}, "y2": {"field": "upper_whisker"}}},
                    {"data": {"name": "boxes"}, "transform": [{"filter": "datum.measure === 'Attitude'"}],
                     "mark": {"type": "rule", "color": "#5a5a5a", "strokeWidth": 2},
                     "encoding": {"y": {"field": "lower_whisker", "type": "quantitative", "title": "Attitudes Score"}, "y2": {"field": "q1"}}},
                    {"data": {"name": "boxes"}, "transform": [{"filter": "datum.measure === 'Attitude'"}],
                     "mark": {"type": "tick", "color": "#5a5a5a", "size": 67, "thickness": 2, "opacity": 1},
                     "encoding": {"y": {"field": "q1", "type": "quantitative", "title": "Attitudes Score"}}},
                    {"data": {"name": "boxes"}, "transform": [{"filter": "datum.measure === 'Attitude'"}],
                     "mark": {"type": "tick", "color": "#5a5a5a", "size": 67, "thickness": 2, "opacity": 1},
                     "encoding": {"y": {"field": "q3", "type": "quantitative", "title": "Attitudes Score"}}},
                    {"data": {"name": "boxes"}, "transform": [{"filter": "datum.measure === 'Attitude'"}],
                     "mark": {"type": "tick", "color": "#4f4f4f", "size": 67, "thickness": 3.5, "opacity": 1},
                     "encoding": {"y": {"field": "lower_whisker", "type": "quantitative", "title": "Attitudes Score"}}},
                    {"data": {"name": "boxes"}, "transform": [{"filter": "datum.measure === 'Attitude'"}],
                     "mark": {"type": "tick", "color": "#4f4f4f", "size": 67, "thickness": 3.5, "opacity": 1},
                     "encoding": {"y": {"field": "upper_whisker", "type": "quantitative", "title": "Attitudes Score"}}}
                  ]
                },
                {
                  "width": 386, "height": 1428,
                  "title": {"text": "Knowledge"},
                  "encoding": {"x": {"field": "school", "type": "nominal", "title": null, "scale": {"domain": ["Large Public", "Medium Public", "Small Private"], "paddingInner": 0, "paddingOuter": 0}, "axis": {"labelExpr": "split(datum.label, ' ')"}}},
                  "layer": [
                    {"data": {"name": "points"}, "transform": [{"filter": "datum.measure === 'Knowledge'"}],
                     "mark": {"type": "point", "filled": true, "opacity": 1, "size": 230},
                     "encoding": {
                       "y": {"field": "score", "type": "quantitative", "title": "Knowledge Score", "scale": {"domain": [0, 7.39], "nice": false}, "axis": {"values": [0, 0.5, 1, 1.5, 2, 2.5, 3, 3.5, 4, 4.5, 5, 5.5, 6, 6.5, 7], "format": ".1f"}},
                       "color": {"field": "school", "type": "nominal", "scale": {"domain": ["Large Public", "Medium Public", "Small Private"], "range": ["#4e79a7", "#f28e2b", "#e15759"]}, "legend": null},
                       "shape": {"field": "group", "type": "nominal", "scale": {"domain": ["A", "B"], "range": ["square", "circle"]}, "legend": null}}},
                    {"data": {"name": "boxes"}, "transform": [{"filter": "datum.measure === 'Knowledge'"}],
                     "mark": {"type": "bar", "width": {"band": 0.52}, "color": "#949494", "opacity": 0.33},
                     "encoding": {"y": {"field": "q1", "type": "quantitative", "title": "Knowledge Score"}, "y2": {"field": "median"}}},
                    {"data": {"name": "boxes"}, "transform": [{"filter": "datum.measure === 'Knowledge'"}],
                     "mark": {"type": "bar", "width": {"band": 0.52}, "color": "#d4d4d4", "opacity": 0.33},
                     "encoding": {"y": {"field": "median", "type": "quantitative", "title": "Knowledge Score"}, "y2": {"field": "q3"}}},
                    {"data": {"name": "boxes"}, "transform": [{"filter": "datum.measure === 'Knowledge'"}],
                     "mark": {"type": "rule", "color": "#5a5a5a", "strokeWidth": 2},
                     "encoding": {"y": {"field": "q3", "type": "quantitative", "title": "Knowledge Score"}, "y2": {"field": "upper_whisker"}}},
                    {"data": {"name": "boxes"}, "transform": [{"filter": "datum.measure === 'Knowledge'"}],
                     "mark": {"type": "rule", "color": "#5a5a5a", "strokeWidth": 2},
                     "encoding": {"y": {"field": "lower_whisker", "type": "quantitative", "title": "Knowledge Score"}, "y2": {"field": "q1"}}},
                    {"data": {"name": "boxes"}, "transform": [{"filter": "datum.measure === 'Knowledge'"}],
                     "mark": {"type": "tick", "color": "#5a5a5a", "size": 67, "thickness": 2, "opacity": 1},
                     "encoding": {"y": {"field": "q1", "type": "quantitative", "title": "Knowledge Score"}}},
                    {"data": {"name": "boxes"}, "transform": [{"filter": "datum.measure === 'Knowledge'"}],
                     "mark": {"type": "tick", "color": "#5a5a5a", "size": 67, "thickness": 2, "opacity": 1},
                     "encoding": {"y": {"field": "q3", "type": "quantitative", "title": "Knowledge Score"}}},
                    {"data": {"name": "boxes"}, "transform": [{"filter": "datum.measure === 'Knowledge'"}],
                     "mark": {"type": "tick", "color": "#4f4f4f", "size": 67, "thickness": 3.5, "opacity": 1},
                     "encoding": {"y": {"field": "lower_whisker", "type": "quantitative", "title": "Knowledge Score"}}},
                    {"data": {"name": "boxes"}, "transform": [{"filter": "datum.measure === 'Knowledge'"}],
                     "mark": {"type": "tick", "color": "#4f4f4f", "size": 67, "thickness": 3.5, "opacity": 1},
                     "encoding": {"y": {"field": "upper_whisker", "type": "quantitative", "title": "Knowledge Score"}}}
                  ]
                }
              ]
            }
          ]
        }
      ]
    }
  ]
}
